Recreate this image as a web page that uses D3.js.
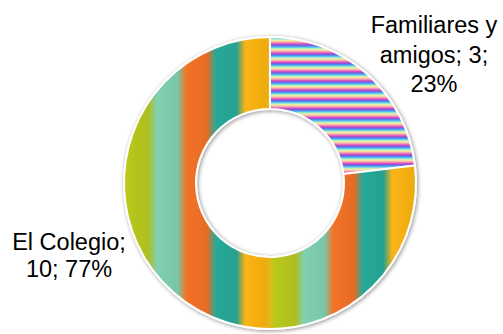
<!DOCTYPE html>
<html><head><meta charset="utf-8">
<script src="https://cdn.jsdelivr.net/npm/d3@7"></script>
<style>html,body{margin:0;padding:0;background:#fff;}svg{display:block;}</style>
</head><body>
<script>
const categories = ["Familiares y amigos", "El Colegio"];
const values = [3, 10];
const stripeColors = ["#b9c81f", "#80d0b1", "#f37226", "#27a999", "#fbb412"];
const rainbowColors = ["#4a8cf0", "#5cc8f0", "#a8ecc8", "#f6f29a", "#f8c0a8", "#f08cc0", "#d84cb8", "#8a56dc", "#4a8cf0"];

const W = 503, H = 334;
const cx = 270, cy = 183, R = 146, r = 74;

const svg = d3.select("body").append("svg").attr("width", W).attr("height", H);
const defs = svg.append("defs");

// shadow
const f = defs.append("filter").attr("id", "sh").attr("x", "-20%").attr("y", "-20%").attr("width", "140%").attr("height", "140%");
f.append("feGaussianBlur").attr("in", "SourceAlpha").attr("stdDeviation", 2).attr("result", "b");
f.append("feOffset").attr("in", "b").attr("dx", 1).attr("dy", 1).attr("result", "o");
f.append("feComponentTransfer").attr("in", "o").attr("result", "o2")
  .append("feFuncA").attr("type", "linear").attr("slope", 0.45);
const fm = f.append("feMerge");
fm.append("feMergeNode").attr("in", "o2");
fm.append("feMergeNode").attr("in", "SourceGraphic");

// rainbow horizontal stripes
const g1 = defs.append("linearGradient").attr("id", "rainbow")
  .attr("gradientUnits", "userSpaceOnUse").attr("spreadMethod", "repeat")
  .attr("x1", 0).attr("y1", 37).attr("x2", 0).attr("y2", 37 + 9.2);
const rs = d3.scaleLinear().domain([0, rainbowColors.length - 1]).range([0, 1]);
rainbowColors.forEach((c, i) => g1.append("stop").attr("offset", rs(i)).attr("stop-color", c));

// vertical soft stripes
const period = 147, x0 = 124;
const g2 = defs.append("linearGradient").attr("id", "vstripes")
  .attr("gradientUnits", "userSpaceOnUse").attr("spreadMethod", "repeat")
  .attr("x1", x0).attr("y1", 0).attr("x2", x0 + period).attr("y2", 0);
const n = stripeColors.length;
const mid = d3.interpolateRgb(stripeColors[n-1], stripeColors[0])(0.5);
g2.append("stop").attr("offset", 0).attr("stop-color", mid);
stripeColors.forEach((c, i) => {
  const a = i / n, b = (i + 1) / n;
  g2.append("stop").attr("offset", a + 0.025).attr("stop-color", c);
  g2.append("stop").attr("offset", b - 0.035).attr("stop-color", d3.color(c).darker(0.15));
});
g2.append("stop").attr("offset", 1).attr("stop-color", mid);

const fills = ["url(#rainbow)", "url(#vstripes)"];

const pie = d3.pie().sort(null).value(d => d)(values);
const arc = d3.arc().innerRadius(r).outerRadius(R);

const gp = svg.append("g").attr("transform", `translate(${cx},${cy})`).attr("filter", "url(#sh)");
gp.selectAll("path").data(pie).join("path")
  .attr("d", arc)
  .attr("fill", (d, i) => fills[i])
  .attr("stroke", "#fff").attr("stroke-width", 2).attr("stroke-linejoin", "round");

g1.attr("gradientTransform", `translate(${-cx},${-cy})`);
g2.attr("gradientTransform", `translate(${-cx},${-cy})`);

const total = d3.sum(values);
const pct = v => Math.round(v / total * 100) + "%";

const labels = [
  { x: 434, lines: ["Familiares y", "amigos; " + values[0] + ";", pct(values[0])], y0: 33, dy: 29.5 },
  { x: 69, lines: [categories[1] + ";", values[1] + "; " + pct(values[1])], y0: 250, dy: 27 }
];

labels.forEach(L => {
  const t = svg.append("text").attr("text-anchor", "middle")
    .attr("font-family", "'Liberation Sans', Arial, sans-serif")
    .attr("font-size", 23.5).attr("fill", "#000");
  L.lines.forEach((s, i) => t.append("tspan").attr("x", L.x).attr("y", L.y0 + i * L.dy).text(s));
});
</script>
</body></html>
